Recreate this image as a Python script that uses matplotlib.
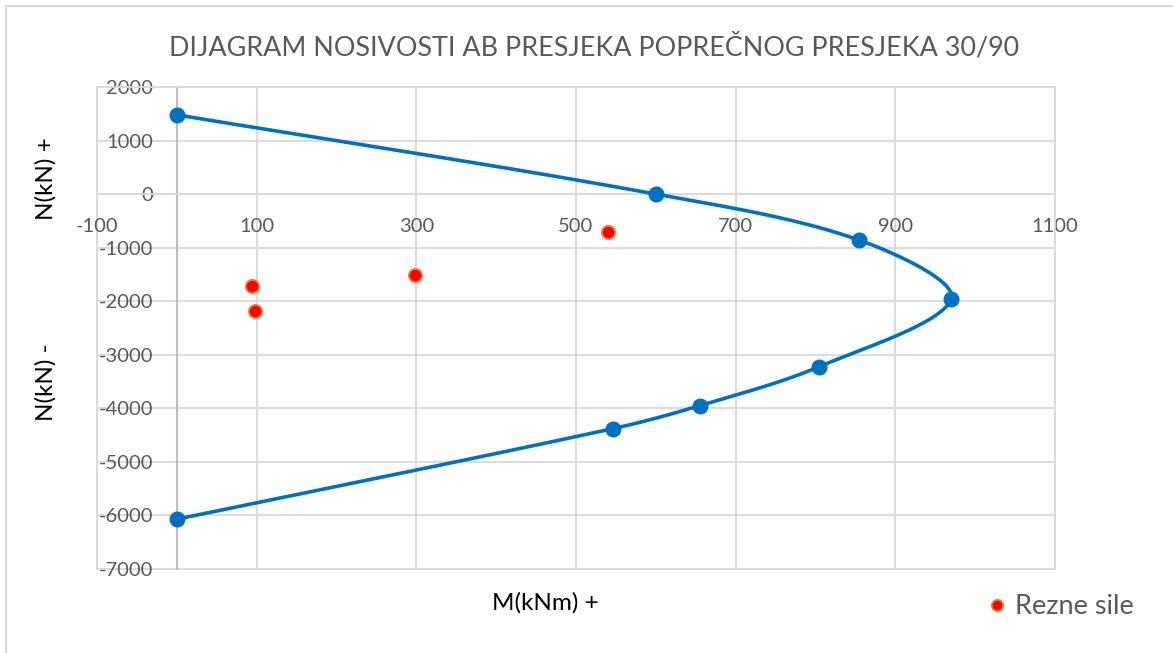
import numpy as np
import matplotlib.pyplot as plt
from matplotlib.patches import Rectangle

plt.rcParams['font.family'] = ['Lato', 'DejaVu Sans']
plt.rcParams['axes.unicode_minus'] = False

# interaction diagram points (M, N)
m_cap = [0, 600, 855, 970, 805, 655, 546, 0]
n_cap = [1480, 0, -860, -1950, -3220, -3950, -4380, -6070]

# section forces
m_sile = [94, 98, 298, 540]
n_sile = [-1720, -2175, -1515, -713]

x_ticks = list(range(-100, 1101, 200))
y_ticks = list(range(-7000, 2001, 1000))

GRID = '#d9d9d9'
TXT = '#595959'
BLUE = '#0070c0'


def smooth_curve(ax, xs, ys, n=40):
    # bezier smoothing in screen space, tangents weighted by segment length
    pts = ax.transData.transform(np.column_stack([xs, ys]))
    p = np.vstack([pts[0], pts, pts[-1]])
    out = []
    for i in range(1, len(p) - 2):
        p0, p1, p2, p3 = p[i - 1], p[i], p[i + 1], p[i + 2]
        d01 = np.hypot(*(p1 - p0))
        d12 = np.hypot(*(p2 - p1))
        d23 = np.hypot(*(p3 - p2))
        c1 = p1 + (p2 - p0) * d12 / (d01 + d12) / 3.0
        c2 = p2 - (p3 - p1) * d12 / (d12 + d23) / 3.0
        t = np.linspace(0, 1, n)[:, None]
        seg = ((1 - t) ** 3) * p1 + 3 * ((1 - t) ** 2) * t * c1 + 3 * (1 - t) * t ** 2 * c2 + t ** 3 * p2
        out.append(seg if i == 1 else seg[1:])
    out = np.vstack(out)
    d = ax.transData.inverted().transform(out)
    return d[:, 0], d[:, 1]


fig = plt.figure(figsize=(11.73, 6.53), dpi=100)
ax = fig.add_axes([97 / 1173, 1 - 569 / 653, (1055 - 97) / 1173, (569 - 87) / 653])
ax.set_xlim(-100, 1100)
ax.set_ylim(-7000, 2000)
ax.set_xticks(x_ticks)
ax.set_yticks(y_ticks)
ax.grid(True, color=GRID, lw=1.3, zorder=0)
ax.set_axisbelow(True)

ax.spines['left'].set_position(('data', 0))
ax.spines['bottom'].set_position(('data', 0))
ax.spines['left'].set_color('#bfbfbf')
ax.spines['bottom'].set_color(GRID)
ax.spines['left'].set_linewidth(1.5)
ax.spines['bottom'].set_linewidth(1.3)
for s in ['top', 'right']:
    ax.spines[s].set_color(GRID)
    ax.spines[s].set_linewidth(1.3)
ax.axvline(-100, color=GRID, lw=1.3, clip_on=False, zorder=0)
ax.axhline(-7000, color=GRID, lw=1.3, clip_on=False, zorder=0)

ax.tick_params(axis='both', length=0, labelsize=14.5, labelcolor=TXT)
ax.tick_params(axis='x', pad=17)
ax.tick_params(axis='y', pad=17)

sx, sy = smooth_curve(ax, m_cap, n_cap)
ax.plot(sx, sy, color=BLUE, lw=2.6, zorder=3, solid_capstyle='round')
ax.plot(m_cap, n_cap, 'o', color=BLUE, ms=10.5, zorder=4)
ax.plot(m_sile, n_sile, 'o', color='#ff0000', mec='#ed7d31', mew=1.3, ms=9.5,
        zorder=5, label='Rezne sile')

fig.text(594 / 1173, 1 - 47 / 653, 'DIJAGRAM NOSIVOSTI AB PRESJEKA POPREČNOG PRESJEKA 30/90',
         ha='center', va='center', fontsize=19.4, color=TXT)
fig.text(46 / 1173, 1 - 179 / 653, 'N(kN) +', rotation=90, ha='center', va='center',
         fontsize=17.5, color='black')
fig.text(46 / 1173, 1 - 382 / 653, 'N(kN) -', rotation=90, ha='center', va='center',
         fontsize=17.5, color='black')
fig.text(545 / 1173, 1 - 603 / 653, 'M(kNm) +', ha='center', va='center',
         fontsize=17.5, color='black')

leg = ax.legend(loc='center left', bbox_to_anchor=(970 / 1173, 1 - 607 / 653),
                bbox_transform=fig.transFigure, frameon=False, fontsize=19.5,
                handletextpad=0.15, handlelength=1.0, borderpad=0, markerscale=0.85)
for t in leg.get_texts():
    t.set_color(TXT)

# outer chart frame
fig.add_artist(Rectangle((6 / 1173, -0.1), 1.2, 1 - 6 / 653 + 0.1, transform=fig.transFigure,
                         fill=False, ec=GRID, lw=1.6, clip_on=False))

fig.savefig('out.png', dpi=100)
